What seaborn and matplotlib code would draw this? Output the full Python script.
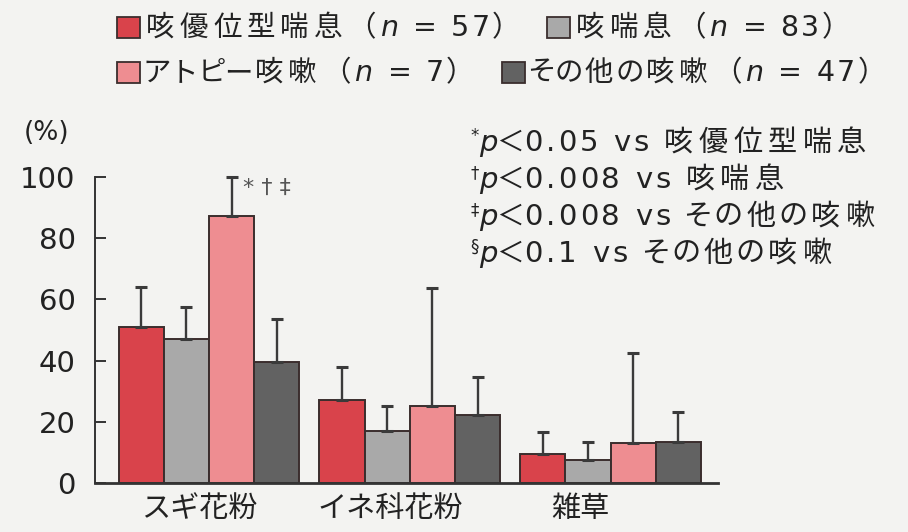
import matplotlib
matplotlib.use("Agg")
import matplotlib.pyplot as plt
import matplotlib.transforms as mtransforms
from matplotlib.patches import Rectangle
import numpy as np
import pandas as pd
import seaborn as sns

# ---- data -------------------------------------------------------------
allergens = ["スギ花粉", "イネ科花粉", "雑草"]
groups = ["咳優位型喘息", "咳喘息", "アトピー咳嗽", "その他の咳嗽"]
group_n = [57, 83, 7, 47]

pct_cva = [51.0, 27.0, 9.4]
pct_ca = [47.0, 17.0, 7.4]
pct_atopic = [87.4, 25.0, 13.1]
pct_other = [39.4, 22.3, 13.4]

sd_cva = [13.0, 11.0, 7.1]
sd_ca = [10.5, 8.0, 6.0]
sd_atopic = [12.6, 38.7, 29.4]
sd_other = [14.2, 12.2, 9.8]

y_ticks = [0, 20, 40, 60, 80, 100]
atopic_marks = "* † ‡"
footnote_marks = ["*", "†", "‡", "§"]
footnote_p = ["0.05", "0.008", "0.008", "0.1"]
footnote_ref = ["咳優位型喘息", "咳喘息", "その他の咳嗽", "その他の咳嗽"]

# ---- style ------------------------------------------------------------
colors = ["#d9434b", "#a9a9a9", "#ee8d91", "#626262"]
EDGE = "#3a2d2d"
INK = "#222222"
BG = "#f3f3f1"
FONTS = ["DejaVu Sans", "Noto Sans CJK JP"]
W, H = 908, 532

sns.set_style("ticks")
plt.rcParams["font.family"] = FONTS
plt.rcParams["text.color"] = INK
plt.rcParams["axes.edgecolor"] = "#333333"

fig = plt.figure(figsize=(W / 100, H / 100), dpi=100, facecolor=BG)
ax = fig.add_axes([95 / W, 49.3 / H, 623 / W, 305.4 / H])
ax.set_facecolor("none")

df = pd.DataFrame({
    "allergen": allergens * len(groups),
    "group": np.repeat(groups, len(allergens)),
    "pct": pct_cva + pct_ca + pct_atopic + pct_other,
})

sns.barplot(data=df, x="allergen", y="pct", hue="group",
            order=allergens, hue_order=groups, palette=colors,
            saturation=1, width=0.9, errorbar=None,
            edgecolor=EDGE, linewidth=1.4, legend=False, ax=ax)

# one-sided (upper) SD bars on every bar
sds = [sd_cva, sd_ca, sd_atopic, sd_other]
bar_sets = list(ax.containers)[:len(groups)]
for cont, sd in zip(bar_sets, sds):
    xs = [b.get_x() + b.get_width() / 2 for b in cont]
    ys = [b.get_height() for b in cont]
    ax.errorbar(xs, ys, yerr=[np.zeros(len(sd)), sd], fmt="none",
                ecolor="#3a3a3a", elinewidth=1.7, capsize=4, capthick=2.2,
                clip_on=False, zorder=3)

# significance marks next to the atopic-cough bar for cedar pollen
pink_bar = bar_sets[2][0]
ax.text(pink_bar.get_x() + pink_bar.get_width() / 2 + 0.055, 96.5,
        atopic_marks, ha="left", va="center", fontsize=16, color="#555555")

ax.set_xlim(-0.568, 2.535)
ax.set_ylim(0, 100)
ax.set_yticks(y_ticks)
ax.set_yticklabels([str(v) for v in y_ticks], fontsize=21)
ax.set_xlabel("")
ax.set_ylabel("")
ax.tick_params(axis="y", direction="in", length=8, width=1.4, pad=14,
               colors="#333333", labelcolor=INK)
ax.tick_params(axis="x", length=0, pad=8, labelsize=21, labelcolor=INK)
sns.despine(ax=ax)
ax.spines["left"].set_linewidth(1.4)
ax.spines["bottom"].set_linewidth(2.0)

label_shift_px = [-10, -20, -30]
for lab, dx in zip(ax.get_xticklabels(), label_shift_px):
    lab.set_family(["Noto Sans CJK JP"])
    lab.set_transform(lab.get_transform() +
                      mtransforms.ScaledTranslation(dx / 100, 0, fig.dpi_scale_trans))

fig.text(47 / W, 1 - 133 / H, "(%)", ha="center", va="center", fontsize=19)

# ---- spaced text runs (legend and footnotes) -----------------------------
renderer = fig.canvas.get_renderer()
_adv = {}


def _width(s, size, style):
    t = fig.text(0, 0, s, fontsize=size, fontstyle=style, family=FONTS)
    w = t.get_window_extent(renderer).width
    t.remove()
    return w


def advance(c, size, style="normal"):
    key = (c, size, style)
    if key not in _adv:
        _adv[key] = _width("|" + c + "|", size, style) - _width("||", size, style)
    return _adv[key]


def draw_run(x, baseline, s, size, style="normal", track_latin=2.0,
             track_cjk=4.0, kana_scale=1.0, rise=0.0, color=INK):
    for c in s:
        a = advance(c, size, style)
        if 0x3040 <= ord(c) <= 0x30FF:
            a *= kana_scale  # kana set proportionally narrower
        if not c.isspace():
            fig.text((x + a / 2) / W, 1 - (baseline - rise) / H, c,
                     ha="center", va="baseline", fontsize=size,
                     fontstyle=style, family=FONTS, color=color)
        x += a + (track_cjk if ord(c) >= 0x2E80 else track_latin)
    return x


def legend_entry(x, baseline, color, label, n, size=20.5):
    fig.patches.append(Rectangle((x / W, 1 - (baseline + 2) / H), 23 / W, 21 / H,
                                 transform=fig.transFigure, facecolor=color,
                                 edgecolor=EDGE, linewidth=1.3))
    kw = dict(track_latin=2.5, track_cjk=5.0, kana_scale=0.78)
    x = draw_run(x + 29, baseline, label, size, **kw)
    x = draw_run(x, baseline, "（", size, **kw)
    x = draw_run(x, baseline, "n", size, style="italic", **kw)
    x = draw_run(x, baseline, f" = {n}", size, **kw)
    x = draw_run(x, baseline, "）", size, **kw)
    return x


for row, idx in enumerate([(0, 1), (2, 3)]):
    x = 117
    baseline = 36 + 45 * row
    for i in idx:
        x = legend_entry(x, baseline, colors[i], groups[i], group_n[i]) + 22

for i, (mark, pval, ref) in enumerate(zip(footnote_marks, footnote_p, footnote_ref)):
    baseline = 151 + 37 * i
    kw = dict(track_latin=3.0, track_cjk=5.5, kana_scale=0.85)
    x = draw_run(470, baseline, mark, 12, rise=10, track_latin=0.5)
    x = draw_run(x, baseline, "p", 21, style="italic", **kw)
    x = draw_run(x - 4, baseline, "＜", 20, **kw)
    x = draw_run(x - 5, baseline, f"{pval} vs ", 21, **kw)
    draw_run(x, baseline, ref, 21, **kw)

fig.savefig("out.png", dpi=100, facecolor=BG)
